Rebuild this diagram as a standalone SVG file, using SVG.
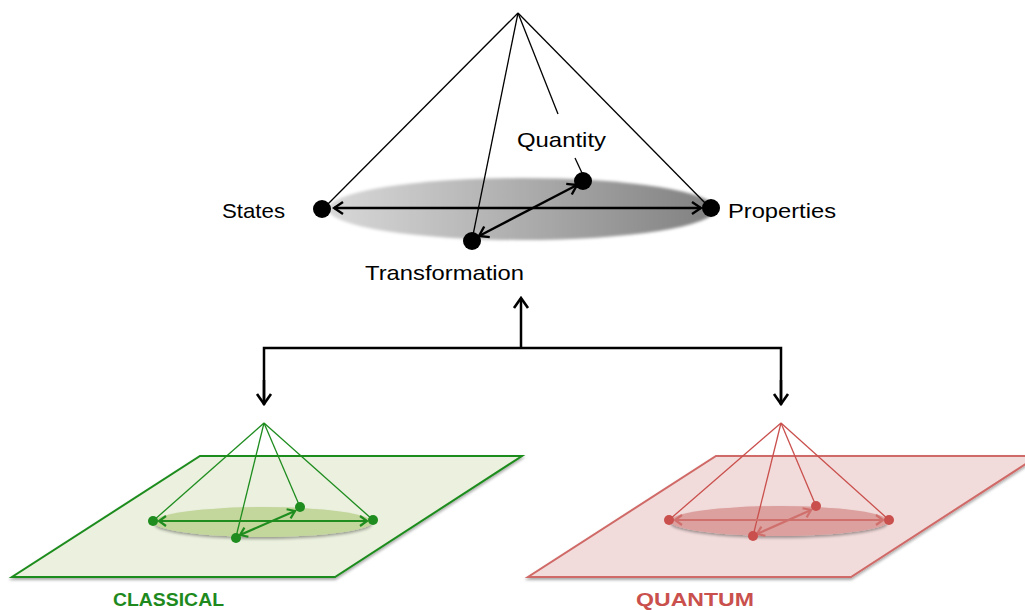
<svg xmlns="http://www.w3.org/2000/svg" width="1025" height="610" viewBox="0 0 1025 610">
<style>
  .lbl{font-family:"Liberation Sans",Arial,sans-serif;font-size:21px;fill:#000}
  .cone{stroke:#000;stroke-width:1.3;fill:none}
  .conn{stroke:#000;stroke-width:2.5;fill:none}
  .g{stroke:#1e8c1e;fill:none}
  .r{stroke:#c9504d;fill:none}
  .big{font-family:"Liberation Sans",Arial,sans-serif;font-size:19px;font-weight:bold}
</style>
<defs>
  <linearGradient id="grayGrad" x1="0" y1="0" x2="1" y2="0">
    <stop offset="0" stop-color="#d8d8d8"/>
    <stop offset="0.5" stop-color="#adadad"/>
    <stop offset="1" stop-color="#808080"/>
  </linearGradient>
  <filter id="soft" x="-10%" y="-50%" width="120%" height="200%">
    <feGaussianBlur stdDeviation="1.5"/>
  </filter>
  <filter id="shadow" x="-10%" y="-50%" width="120%" height="200%">
    <feGaussianBlur in="SourceAlpha" stdDeviation="1.5"/>
    <feOffset dx="0" dy="2" result="b"/>
    <feComponentTransfer><feFuncA type="linear" slope="0.35"/></feComponentTransfer>
    <feMerge><feMergeNode/><feMergeNode in="SourceGraphic"/></feMerge>
  </filter>
  <marker id="ah" viewBox="-12 -8 14 16" markerWidth="14" markerHeight="16" refX="0" refY="0" markerUnits="userSpaceOnUse" orient="auto-start-reverse">
    <path d="M-9,-6 L0,0 L-9,6" fill="none" stroke="#000" stroke-width="2.4"/>
  </marker>
  <marker id="ahc" viewBox="-14 -9 16 18" markerWidth="16" markerHeight="18" refX="0" refY="0" markerUnits="userSpaceOnUse" orient="auto-start-reverse">
    <path d="M-10,-7 L0,0 L-10,7" fill="none" stroke="#000" stroke-width="2.6"/>
  </marker>
  <marker id="ahg" viewBox="-10 -7 12 14" markerWidth="12" markerHeight="14" refX="0" refY="0" markerUnits="userSpaceOnUse" orient="auto-start-reverse">
    <path d="M-7,-5 L0,0 L-7,5" fill="none" stroke="#1e8c1e" stroke-width="2.2"/>
  </marker>
  <marker id="ahr" viewBox="-10 -7 12 14" markerWidth="12" markerHeight="14" refX="0" refY="0" markerUnits="userSpaceOnUse" orient="auto-start-reverse">
    <path d="M-7,-5 L0,0 L-7,5" fill="none" stroke="#d0706d" stroke-width="2.2"/>
  </marker>
</defs>
<rect width="1025" height="610" fill="#fff"/>

<g id="top-cone">
  <ellipse cx="522" cy="209" rx="194" ry="31" fill="url(#grayGrad)" filter="url(#soft)"/>
  <line class="cone" x1="518" y1="13" x2="324" y2="208"/>
  <line class="cone" x1="518" y1="13" x2="709" y2="207"/>
  <line class="cone" x1="518" y1="13" x2="472" y2="240"/>
  <line class="cone" x1="518" y1="13" x2="558" y2="114"/>
  <line class="cone" x1="575" y1="158" x2="582" y2="173"/>
  <line x1="334" y1="208" x2="701" y2="208" stroke="#000" stroke-width="2.4" marker-start="url(#ah)" marker-end="url(#ah)"/>
  <line x1="479" y1="236" x2="577" y2="185" stroke="#000" stroke-width="2.4" marker-start="url(#ah)" marker-end="url(#ah)"/>
  <circle cx="322" cy="209" r="9" fill="#000"/>
  <circle cx="711" cy="208" r="9" fill="#000"/>
  <circle cx="583" cy="181" r="9" fill="#000"/>
  <circle cx="472" cy="241" r="9" fill="#000"/>
</g>
<g id="states"><text class="lbl" x="222" y="218" textLength="63" lengthAdjust="spacingAndGlyphs">States</text></g>
<g id="properties"><text class="lbl" x="728" y="218" textLength="108" lengthAdjust="spacingAndGlyphs">Properties</text></g>
<g id="quantity"><text class="lbl" x="517" y="147" textLength="89" lengthAdjust="spacingAndGlyphs">Quantity</text></g>
<g id="transformation"><text class="lbl" x="365" y="280" textLength="159" lengthAdjust="spacingAndGlyphs">Transformation</text></g>

<g id="connectors">
  <line class="conn" x1="521" y1="348" x2="521" y2="298" marker-end="url(#ahc)"/>
  <polyline class="conn" points="264,405 264,348 781,348 781,405"/>
  <line class="conn" x1="264" y1="380" x2="264" y2="404" marker-end="url(#ahc)"/>
  <line class="conn" x1="781" y1="380" x2="781" y2="404" marker-end="url(#ahc)"/>
</g>

<g id="classical">
  <polygon points="200,456 522,456 335,577 12,577" fill="#ebf1de" stroke="#1e8c1e" stroke-width="2" filter="url(#shadow)"/>
  <ellipse cx="263" cy="522" rx="109" ry="15" fill="#c3d69b" filter="url(#shadow)"/>
  <g class="g" stroke-width="1.3">
    <line x1="264" y1="423" x2="153" y2="521"/>
    <line x1="264" y1="423" x2="373" y2="520"/>
    <line x1="264" y1="423" x2="300" y2="507"/>
    <line x1="264" y1="423" x2="236" y2="537"/>
  </g>
  <line x1="159" y1="521" x2="367" y2="521" stroke="#1e8c1e" stroke-width="2.2" marker-start="url(#ahg)" marker-end="url(#ahg)"/>
  <line x1="240" y1="535" x2="295" y2="511" stroke="#1e8c1e" stroke-width="2.2" marker-start="url(#ahg)" marker-end="url(#ahg)"/>
  <circle cx="153" cy="521" r="5" fill="#1e8c1e"/>
  <circle cx="373" cy="520" r="5" fill="#1e8c1e"/>
  <circle cx="300" cy="507" r="5" fill="#1e8c1e"/>
  <circle cx="236" cy="538" r="5" fill="#1e8c1e"/>
  <text class="big" x="113" y="606" fill="#1e8a1e" textLength="111" lengthAdjust="spacingAndGlyphs">CLASSICAL</text>
</g>

<g id="quantum">
  <polygon points="716,456 1038,456 851,577 528,577" fill="#f2dcdb" stroke="#d06a67" stroke-width="2" filter="url(#shadow)"/>
  <ellipse cx="779" cy="521" rx="109" ry="15" fill="#dca09e" filter="url(#shadow)"/>
  <g class="r" stroke-width="1.3">
    <line x1="781" y1="423" x2="669" y2="520"/>
    <line x1="781" y1="423" x2="889" y2="520"/>
    <line x1="781" y1="423" x2="816" y2="506"/>
    <line x1="781" y1="423" x2="753" y2="536"/>
  </g>
  <line x1="675" y1="520" x2="883" y2="520" stroke="#d0706d" stroke-width="2.2" marker-start="url(#ahr)" marker-end="url(#ahr)"/>
  <line x1="757" y1="534" x2="811" y2="510" stroke="#d0706d" stroke-width="2.2" marker-start="url(#ahr)" marker-end="url(#ahr)"/>
  <circle cx="669" cy="520" r="5" fill="#c9504d"/>
  <circle cx="889" cy="520" r="5" fill="#c9504d"/>
  <circle cx="816" cy="506" r="5" fill="#c9504d"/>
  <circle cx="753" cy="536" r="5" fill="#c9504d"/>
  <text class="big" x="636" y="606" fill="#c9504d" textLength="118" lengthAdjust="spacingAndGlyphs">QUANTUM</text>
</g>
</svg>
